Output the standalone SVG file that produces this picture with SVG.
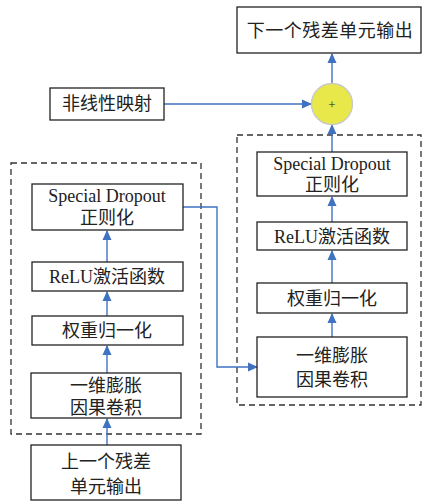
<svg xmlns="http://www.w3.org/2000/svg" width="422" height="501" viewBox="0 0 422 501">
<defs>
<marker id="ah" markerWidth="10" markerHeight="10" refX="9" refY="5" orient="auto" markerUnits="userSpaceOnUse">
<path d="M0,0.5 L10,5 L0,9.5 Z" fill="#3f72c0"/>
</marker>
<style>
.box{fill:#fff;stroke:#222;stroke-width:1.3}
.dash{fill:none;stroke:#333;stroke-width:1.3;stroke-dasharray:6,4}
.t{font-family:"Liberation Serif","Noto Sans CJK SC",serif;font-size:18px;fill:#222;text-anchor:middle}
.c{fill:none;stroke:#3f72c0;stroke-width:1.4;marker-end:url(#ah)}
</style>
</defs>
<rect width="422" height="501" fill="#fff"/>
<g id="groups">
<rect class="dash" x="11" y="163" width="190" height="271"/>
<rect class="dash" x="237" y="135" width="184" height="270"/>
</g>
<g id="connectors">
<line class="c" x1="332" y1="83" x2="332" y2="54"/>
<line class="c" x1="164" y1="104" x2="311" y2="104"/>
<line class="c" x1="332" y1="152" x2="332" y2="125"/>
<line class="c" x1="332" y1="222" x2="332" y2="197"/>
<line class="c" x1="332" y1="283" x2="332" y2="251"/>
<line class="c" x1="332" y1="337" x2="332" y2="314"/>
<line class="c" x1="107" y1="262" x2="107" y2="231"/>
<line class="c" x1="107" y1="316" x2="107" y2="292"/>
<line class="c" x1="107" y1="373" x2="107" y2="346"/>
<line class="c" x1="107" y1="445" x2="107" y2="419"/>
<polyline class="c" points="183,207 217,207 217,367 257,367"/>
</g>
<g id="out"><rect class="box" x="237" y="7" width="184" height="46"/><text class="t" x="330" y="37" letter-spacing="0.5">下一个残差单元输出</text></g>
<g id="sum"><circle cx="332" cy="104" r="20.5" fill="#e8e84a" stroke="#c8c8c8" stroke-width="1.3"/><text class="t" x="332" y="109" style="font-size:13px">+</text></g>
<g id="nonlin"><rect class="box" x="50" y="88" width="114" height="32"/><text class="t" x="107" y="110">非线性映射</text></g>
<g id="r_drop"><rect class="box" x="257" y="152" width="150" height="44"/><text class="t" x="332" y="170">Special Dropout</text><text class="t" x="332" y="191">正则化</text></g>
<g id="r_relu"><rect class="box" x="257" y="222" width="150" height="28"/><text class="t" x="332" y="243">ReLU激活函数</text></g>
<g id="r_wn"><rect class="box" x="257" y="283" width="150" height="30"/><text class="t" x="332" y="305">权重归一化</text></g>
<g id="r_conv"><rect class="box" x="257" y="337" width="150" height="60"/><text class="t" x="332" y="362">一维膨胀</text><text class="t" x="332" y="386">因果卷积</text></g>
<g id="l_drop"><rect class="box" x="32" y="184" width="151" height="46"/><text class="t" x="107" y="202">Special Dropout</text><text class="t" x="107" y="224">正则化</text></g>
<g id="l_relu"><rect class="box" x="32" y="262" width="151" height="29"/><text class="t" x="107" y="283">ReLU激活函数</text></g>
<g id="l_wn"><rect class="box" x="32" y="316" width="151" height="29"/><text class="t" x="107" y="337">权重归一化</text></g>
<g id="l_conv"><rect class="box" x="31" y="373" width="150" height="45"/><text class="t" x="106" y="392">一维膨胀</text><text class="t" x="106" y="414">因果卷积</text></g>
<g id="in"><rect class="box" x="31" y="445" width="150" height="55"/><text class="t" x="106" y="468">上一个残差</text><text class="t" x="106" y="493">单元输出</text></g>
</svg>
